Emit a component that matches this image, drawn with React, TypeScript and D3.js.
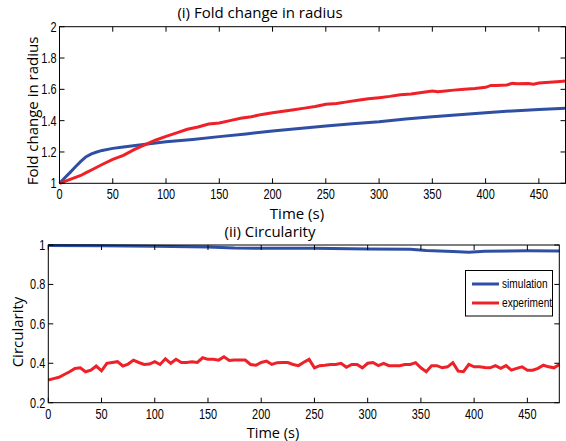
import React from 'react';
import * as d3 from 'd3';

// top panel: fold change in radius
const radiusSimT = [0, 5, 10, 15, 20, 25, 30, 35, 40, 50, 60, 75, 100, 125, 150, 175, 200, 225, 250, 275, 300, 325, 350, 375, 400, 425, 450, 475];
const radiusSimV = [1.0, 1.035, 1.07, 1.106, 1.14, 1.17, 1.188, 1.2, 1.21, 1.223, 1.232, 1.245, 1.265, 1.28, 1.298, 1.315, 1.334, 1.35, 1.366, 1.38, 1.393, 1.41, 1.425, 1.438, 1.45, 1.462, 1.472, 1.48];

const radiusExpT = [0, 10, 20, 25, 30, 40, 50, 55, 60, 70, 80, 90, 100, 110, 120, 130, 140, 150, 160, 170, 180, 190, 200, 210, 220, 230, 240, 250, 260, 270, 280, 290, 300, 310, 320, 330, 340, 350, 355, 360, 370, 380, 390, 400, 405, 410, 420, 425, 430, 440, 445, 450, 460, 470, 475];
const radiusExpV = [1.0, 1.025, 1.05, 1.068, 1.085, 1.12, 1.153, 1.165, 1.178, 1.215, 1.245, 1.275, 1.3, 1.322, 1.345, 1.36, 1.378, 1.385, 1.4, 1.415, 1.425, 1.44, 1.45, 1.46, 1.47, 1.48, 1.49, 1.505, 1.51, 1.52, 1.53, 1.54, 1.547, 1.555, 1.565, 1.57, 1.58, 1.59, 1.585, 1.588, 1.595, 1.6, 1.605, 1.613, 1.625, 1.625, 1.628, 1.638, 1.635, 1.637, 1.632, 1.64, 1.645, 1.65, 1.653];

// bottom panel: circularity
const circSimT = [0, 50, 100, 150, 175, 200, 250, 300, 340, 355, 380, 395, 410, 450, 480];
const circSimV = [0.998, 0.996, 0.994, 0.99, 0.985, 0.983, 0.983, 0.98, 0.978, 0.972, 0.967, 0.963, 0.968, 0.971, 0.97];

const circExpT = d3.range(0, 481, 5);
const circExpV = [
  0.315, 0.322, 0.329, 0.343, 0.357, 0.374, 0.377, 0.357, 0.365, 0.386,
  0.362, 0.4, 0.404, 0.408, 0.386, 0.396, 0.416, 0.404, 0.394, 0.396,
  0.408, 0.394, 0.423, 0.4, 0.42, 0.404, 0.404, 0.408, 0.404, 0.428,
  0.42, 0.42, 0.416, 0.433, 0.414, 0.416, 0.416, 0.416, 0.394, 0.39,
  0.404, 0.411, 0.394, 0.403, 0.404, 0.404, 0.394, 0.388, 0.405, 0.42,
  0.377, 0.388, 0.39, 0.394, 0.394, 0.4, 0.38, 0.394, 0.394, 0.377,
  0.4, 0.404, 0.388, 0.4, 0.388, 0.388, 0.388, 0.394, 0.394, 0.403,
  0.377, 0.357, 0.388, 0.388, 0.377, 0.382, 0.403, 0.36, 0.357, 0.394,
  0.382, 0.382, 0.379, 0.377, 0.388, 0.374, 0.388, 0.365, 0.374, 0.382,
  0.365, 0.365, 0.374, 0.39, 0.382, 0.377, 0.394,
];

const xTicks = [0, 50, 100, 150, 200, 250, 300, 350, 400, 450];
const radiusTicks = [1, 1.2, 1.4, 1.6, 1.8, 2];
const circTicks = [0.2, 0.4, 0.6, 0.8, 1];

const BLUE = '#2f4fa3';
const RED = '#ee2028';
const tickFont = '"Liberation Sans", Arial, sans-serif';
const labelFont = '"Open Sans", "DejaVu Sans", sans-serif';
const SQ = 0.78; // horizontal squeeze to mimic a condensed face

type Panel = {
  x: d3.ScaleLinear<number, number>;
  y: d3.ScaleLinear<number, number>;
  yTicks: number[];
};

const Narrow = ({ x, y, anchor, size, children }: { x: number; y: number; anchor: string; size: number; children: React.ReactNode }) => (
  <text transform={`translate(${x},${y}) scale(${SQ},1)`} textAnchor={anchor} fontFamily={tickFont} fontSize={size}>{children}</text>
);

const Axes = ({ x, y, yTicks }: Panel) => {
  const [x0, x1] = x.range();
  const [y0, y1] = y.range();
  const tl = 5;
  return (
    <g>
      {xTicks.map(t => (
        <g key={'x' + t}>
          <line x1={x(t)} x2={x(t)} y1={y0} y2={y0 - tl} stroke="#000" strokeWidth={1} />
          <line x1={x(t)} x2={x(t)} y1={y1} y2={y1 + tl} stroke="#000" strokeWidth={1} />
          <Narrow x={x(t)} y={y0 + 16} anchor="middle" size={14}>{t}</Narrow>
        </g>
      ))}
      {yTicks.map(t => (
        <g key={'y' + t}>
          <line x1={x0} x2={x0 + tl} y1={y(t)} y2={y(t)} stroke="#000" strokeWidth={1} />
          <line x1={x1} x2={x1 - tl} y1={y(t)} y2={y(t)} stroke="#000" strokeWidth={1} />
          <Narrow x={x0 - 3} y={y(t) + 5} anchor="end" size={14}>{d3.format('~g')(t)}</Narrow>
        </g>
      ))}
      <rect x={x0} y={y1} width={x1 - x0} height={y0 - y1} fill="none" stroke="#000" strokeWidth={1} />
    </g>
  );
};

const App = () => {
  const xTop = d3.scaleLinear().domain([0, 475]).range([59.5, 565.5]);
  const yTop = d3.scaleLinear().domain([1, 2]).range([183.3, 26.7]);
  const xBot = d3.scaleLinear().domain([0, 480]).range([48.3, 559.3]);
  const yBot = d3.scaleLinear().domain([0.2, 1]).range([402.7, 245]);

  const mk = (xs: d3.ScaleLinear<number, number>, ys: d3.ScaleLinear<number, number>, t: number[], v: number[]) =>
    d3.line<number>().x((_, i) => xs(t[i])).y(d => ys(d))(v) || '';

  return (
    <svg width={566} height={441} style={{ position: 'absolute', left: 0, top: 0, background: '#fff' }}>
      <rect width={566} height={441} fill="#fff" />

      {/* top panel */}
      <text x={260} y={18} textAnchor="middle" fontFamily={labelFont} fontSize={15}>(i) Fold change in radius</text>
      <path d={mk(xTop, yTop, radiusSimT, radiusSimV)} fill="none" stroke={BLUE} strokeWidth={3} />
      <path d={mk(xTop, yTop, radiusExpT, radiusExpV)} fill="none" stroke={RED} strokeWidth={3} />
      <Axes x={xTop} y={yTop} yTicks={radiusTicks} />
      <text x={297} y={219} textAnchor="middle" fontFamily={labelFont} fontSize={15}>Time (s)</text>
      <text transform="translate(38,111) rotate(-90)" textAnchor="middle" fontFamily={labelFont} fontSize={15}>Fold change in radius</text>

      {/* bottom panel */}
      <text x={270} y={237} textAnchor="middle" fontFamily={labelFont} fontSize={15}>(ii) Circularity</text>
      <path d={mk(xBot, yBot, circSimT, circSimV)} fill="none" stroke={BLUE} strokeWidth={3} />
      <path d={mk(xBot, yBot, circExpT, circExpV)} fill="none" stroke={RED} strokeWidth={3} />
      <Axes x={xBot} y={yBot} yTicks={circTicks} />
      <text x={273} y={438} textAnchor="middle" fontFamily={labelFont} fontSize={14.5}>Time (s)</text>
      <text transform="translate(23,332) rotate(-90)" textAnchor="middle" fontFamily={labelFont} fontSize={15}>Circularity</text>

      {/* legend */}
      <g>
        <rect x={465.5} y={270.5} width={87} height={45.5} fill="#fff" stroke="#000" strokeWidth={1} />
        <line x1={472} x2={499} y1={284} y2={284} stroke={BLUE} strokeWidth={3} />
        <Narrow x={502} y={288} anchor="start" size={13}>simulation</Narrow>
        <line x1={472} x2={499} y1={303} y2={303} stroke={RED} strokeWidth={3} />
        <Narrow x={502} y={307} anchor="start" size={13}>experiment</Narrow>
      </g>
    </svg>
  );
};

export default App;
